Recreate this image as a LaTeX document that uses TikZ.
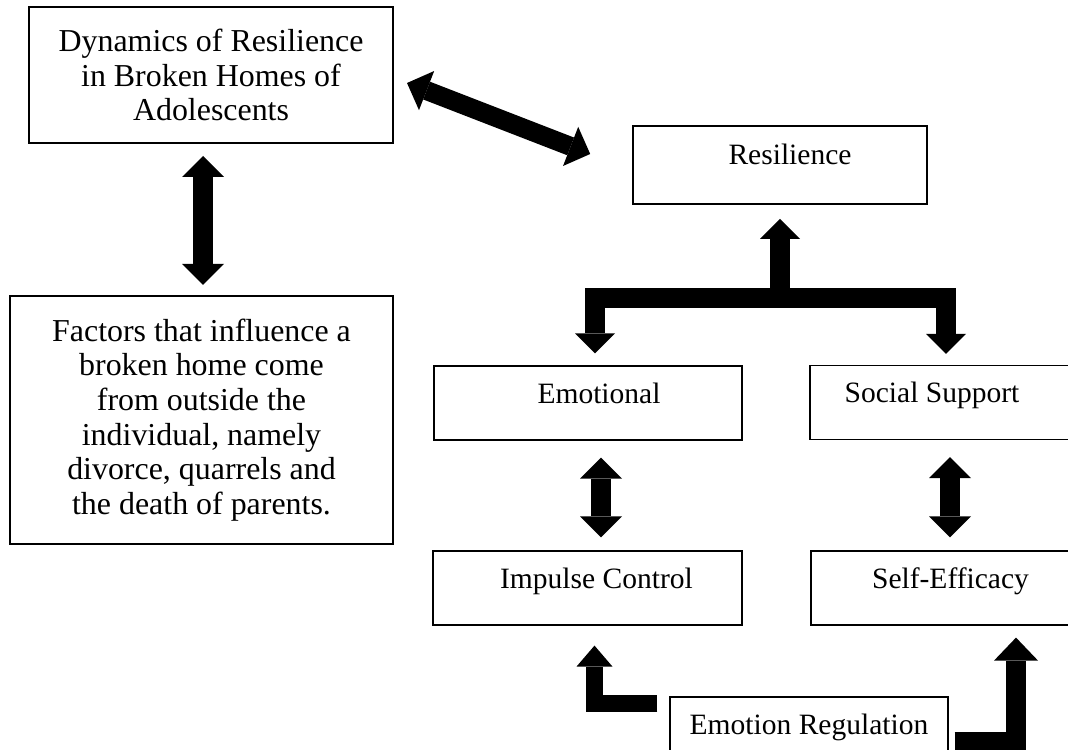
\documentclass[tikz,border=0pt]{standalone}
\usepackage{fontspec}
\setmainfont{Liberation Serif}
\usepackage{tikz}
\usetikzlibrary{calc, arrows.meta}

\begin{document}
\begin{tikzpicture}[x=0.25mm, y=-0.25mm,
    box/.style={draw, rectangle, inner sep=0pt, align=center, line width=0.3mm,
      font=\fontsize{21}{24.4}\selectfont},
    bigbox/.style={box, line width=0.5mm, font=\fontsize{22.7}{24.6}\selectfont},
    cell/.style={box, text height=9.25mm, text depth=9.25mm},
    nudge/.style={execute at begin node=\hspace*{#1}},
    fat/.style={line width=5mm, line join=miter, -{Triangle[width=10mm, length=5mm, line width=0pt]}},
    thin fat/.style={line width=4.25mm, line join=miter, -{Triangle[width=9mm, length=5.25mm, line width=0pt]}},
    dbl/.style={line width=5mm, {Triangle[width=10.5mm, length=5.25mm, line width=0pt]}-{Triangle[width=10.5mm, length=5.25mm, line width=0pt]}}]
    \clip (0,0) rectangle (1068,750);
    \node[bigbox, minimum width=91mm, minimum height=34mm] (dyn) at (211,75)
      {Dynamics of Resilience\\ in Broken Homes of\\ Adolescents};
    \node[bigbox, minimum width=95.75mm, minimum height=62mm] (factors) at (201.5,420)
      {Factors that influence a\\ broken home come\\ from outside the\\ individual, namely\\ divorce, quarrels and\\ the death of parents.};
    \node[cell, nudge=5mm, line width=0.4mm, minimum width=73.5mm, text height=9.75mm, text depth=9.75mm] (resil) at (780,165) {Resilience};
    \node[cell, nudge=5.5mm, minimum width=77mm] (emo) at (588,403) {Emotional};
    \node[cell, minimum width=70mm, execute at end node=\hspace*{9mm}] (social) at (950,402.5) {Social Support};
    \node[cell, nudge=4.5mm, minimum width=77.25mm] (impulse) at (587.5,588) {Impulse Control};
    \node[cell, minimum width=69.75mm] (selfeff) at (950.5,588) {Self-Efficacy};
    \node[cell, minimum width=69.5mm] (regul) at (809,734) {Emotion Regulation};
    \coordinate (fork) at (780,298);
    \draw[dbl] ($(dyn.south)+(-8,12)$) -- ($(factors.north)+(1.5,-10)$);
    \draw[dbl, line width=4.75mm] ($(dyn.east)+(13,8)$) -- ($(resil.west)+(-42,-11)$);
    \draw[fat] (fork) -- ($(resil.south)+(0,14)$);
    \draw[fat] (fork) -| ($(emo.north)+(7,-12)$);
    \draw[fat] (fork) -| ($(social.north)+(-4,-11)$);
    \draw[dbl] ($(emo.south)+(13,17)$) -- ($(impulse.north)+(13.5,-13)$);
    \draw[dbl] ($(social.south)+(0,17)$) -- ($(selfeff.north)+(-0.5,-13)$);
    \draw[thin fat] ($(regul.north west)+(-12,7)$) -| ($(impulse.south)+(7,20)$);
    \draw[fat, -{Triangle[width=11mm, length=5.75mm, line width=0pt]}] ($(regul.east)+(6,8)$) -| ($(selfeff.south)+(65.5,12)$);
\end{tikzpicture}
\end{document}
